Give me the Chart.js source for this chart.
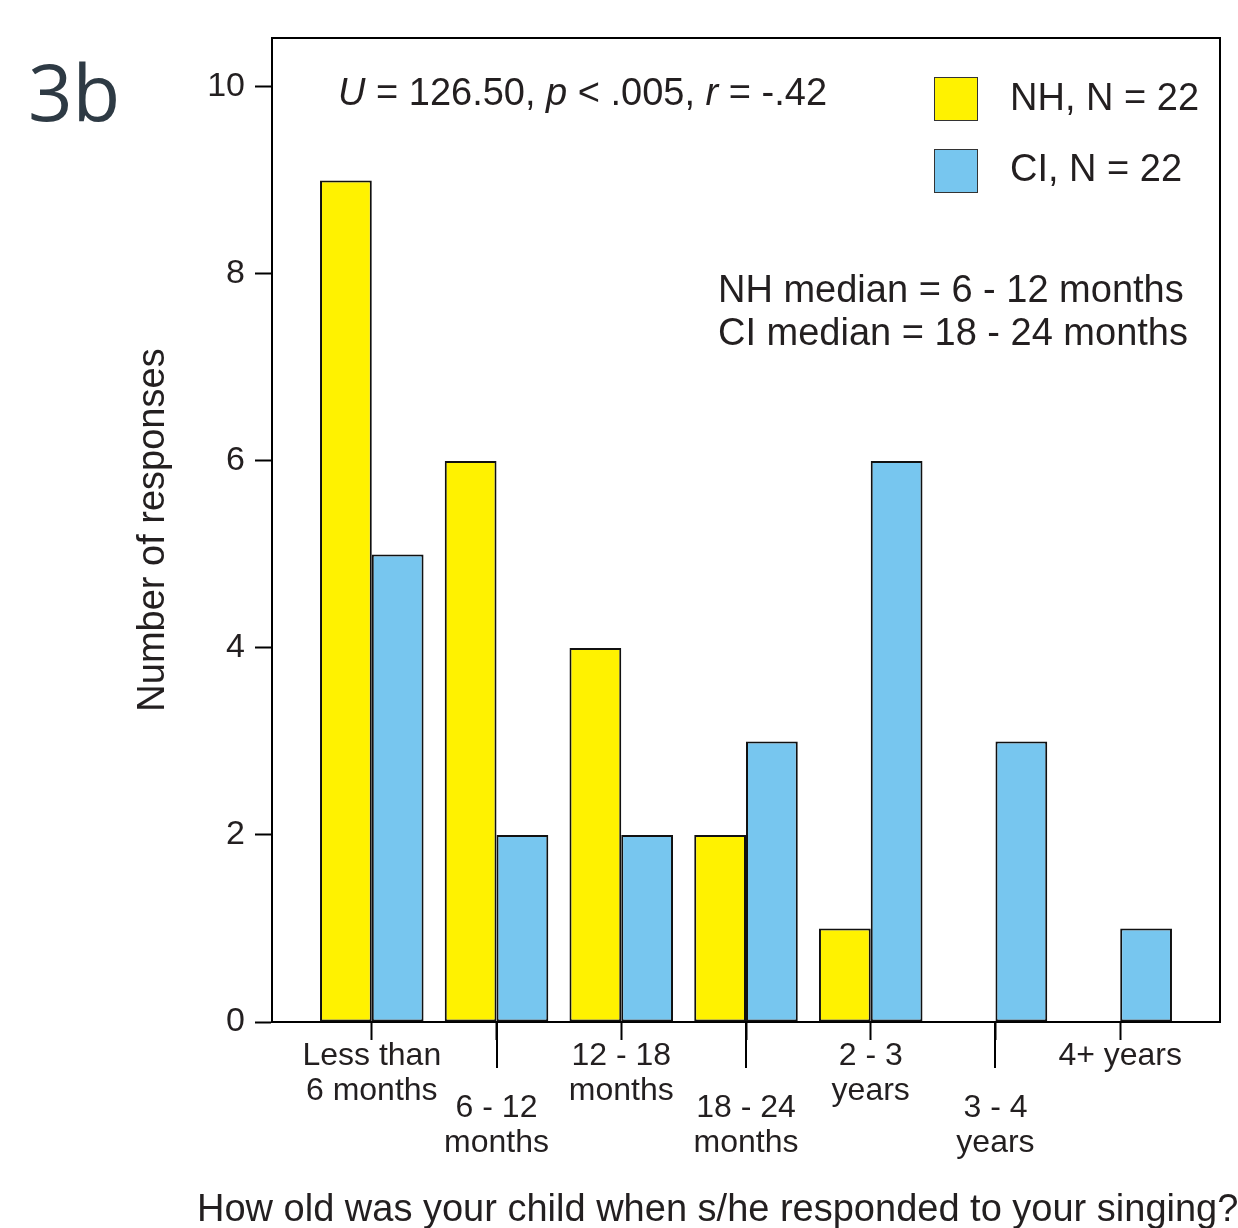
<!DOCTYPE html>
<html>
<head>
<meta charset="utf-8">
<script src="https://cdn.jsdelivr.net/npm/chart.js@4.4.1/dist/chart.umd.min.js"></script>
<style>
  html, body { margin: 0; padding: 0; background: #fff; }
</style>
</head>
<body>
<canvas id="chartAge" width="1238" height="1228"></canvas>
<script>
// categories (two text lines each) and the two series
const categories = [
    ['Less than', '6 months'],
    ['6 - 12', 'months'],
    ['12 - 18', 'months'],
    ['18 - 24', 'months'],
    ['2 - 3', 'years'],
    ['3 - 4', 'years'],
    ['4+ years']
];
const dataNH = [9, 6, 4, 2, 1, 0, 0];
const dataCI = [5, 2, 2, 3, 6, 3, 1];
const seriesLabels = ['NH, N = 22', 'CI, N = 22'];
const yTickValues = [0, 2, 4, 6, 8, 10];

const panelLabel = '3b';
const yTitle = 'Number of responses';
const xTitle = 'How old was your child when s/he responded to your singing?';
const medianLines = ['NH median = 6 - 12 months', 'CI median = 18 - 24 months'];
// [text, italic]
const statsLine = [['U', true], [' = 126.50, ', false], ['p', true], [' < .005, ', false], ['r', true], [' = -.42', false]];

const FONT = "'Liberation Sans', Arial, Helvetica, sans-serif";
const INK = '#231f20';

Chart.defaults.font.family = FONT;
Chart.defaults.color = INK;

// frame, legend, annotations and staggered x labels
const annotations = {
    id: 'annotations',
    afterDraw(chart) {
        const ctx = chart.ctx;
        const area = chart.chartArea;
        const xs = chart.scales.x;
        ctx.save();

        // top + right lines of the box
        ctx.strokeStyle = '#000';
        ctx.lineWidth = 2;
        ctx.beginPath();
        ctx.moveTo(area.left, area.top);
        ctx.lineTo(area.right, area.top);
        ctx.lineTo(area.right, area.bottom);
        ctx.stroke();

        // long ticks under the lowered labels
        categories.forEach((c, i) => {
            if (i % 2 === 1) {
                const px = Math.round(xs.getPixelForValue(i));
                ctx.beginPath();
                ctx.moveTo(px, area.bottom);
                ctx.lineTo(px, area.bottom + 46);
                ctx.stroke();
            }
        });

        // x labels
        ctx.fillStyle = INK;
        ctx.font = `32px ${FONT}`;
        ctx.textAlign = 'center';
        ctx.textBaseline = 'alphabetic';
        categories.forEach((lines, i) => {
            const px = xs.getPixelForValue(i);
            const base = i % 2 === 1 ? 1117 : 1065;
            lines.forEach((t, k) => ctx.fillText(t, px, base + k * 35));
        });

        // x title
        ctx.font = `38px ${FONT}`;
        ctx.textAlign = 'left';
        ctx.fillText(xTitle, 197, 1221);

        // stats line
        let x = 338;
        statsLine.forEach(([t, it]) => {
            ctx.font = `${it ? 'italic ' : ''}38px ${FONT}`;
            ctx.fillText(t, x, 105);
            x += ctx.measureText(t).width;
        });

        // median lines
        ctx.font = `38px ${FONT}`;
        medianLines.forEach((t, k) => ctx.fillText(t, 718, 302 + k * 43));

        // legend
        chart.data.datasets.forEach((ds, k) => {
            const top = 77 + k * 72;
            ctx.fillStyle = ds.backgroundColor;
            ctx.fillRect(934, top, 43, 43);
            ctx.strokeStyle = '#333';
            ctx.lineWidth = 1;
            ctx.strokeRect(934.5, top + 0.5, 43, 43);
            ctx.fillStyle = INK;
            ctx.font = `38px ${FONT}`;
            ctx.fillText(ds.label, 1010, 110 + k * 71);
        });

        // panel label
        ctx.fillStyle = '#2e3a44';
        ctx.font = "78px 'Open Sans', 'DejaVu Sans', sans-serif";
        ctx.fillText(panelLabel, 28, 121);

        ctx.restore();
    }
};

const chartAge = new Chart(document.getElementById('chartAge').getContext('2d'), {
    type: 'bar',
    data: {
        datasets: [{
            label: seriesLabels[0],
            data: dataNH.map((v, i) => ({ x: i, y: v })),
            backgroundColor: '#fff200',
            borderColor: '#111',
            borderWidth: 2,
            borderSkipped: false
        }, {
            label: seriesLabels[1],
            data: dataCI.map((v, i) => ({ x: i, y: v })),
            backgroundColor: '#77c6ef',
            borderColor: '#111',
            borderWidth: 2,
            borderSkipped: false
        }]
    },
    options: {
        responsive: false,
        animation: false,
        devicePixelRatio: 1,
        layout: {
            padding: { left: 131, top: 38, right: 18, bottom: 0 }
        },
        datasets: {
            bar: { categoryPercentage: 0.83, barPercentage: 1 }
        },
        plugins: {
            legend: { display: false },
            title: { display: false },
            tooltip: { enabled: false }
        },
        scales: {
            x: {
                type: 'linear',
                min: -0.8,
                max: 6.8,
                offset: false,
                afterFit: s => { s.height = 206; },
                ticks: { stepSize: 1, includeBounds: false, display: false },
                grid: {
                    offset: false,
                    drawOnChartArea: false,
                    tickLength: 18,
                    tickColor: '#000',
                    tickWidth: 2
                },
                border: { color: '#000', width: 2 }
            },
            y: {
                min: 0,
                max: 10.524,
                afterFit: s => { s.width = 141; },
                afterBuildTicks: s => { s.ticks = yTickValues.map(v => ({ value: v })); },
                ticks: {
                    padding: 10,
                    color: INK,
                    font: { size: 34 }
                },
                grid: {
                    drawOnChartArea: false,
                    tickLength: 17,
                    tickColor: '#000',
                    tickWidth: 2
                },
                border: { color: '#000', width: 2 },
                title: {
                    display: true,
                    text: yTitle,
                    color: INK,
                    padding: 0,
                    font: { size: 38 }
                }
            }
        }
    },
    plugins: [annotations]
});
</script>
</body>
</html>
